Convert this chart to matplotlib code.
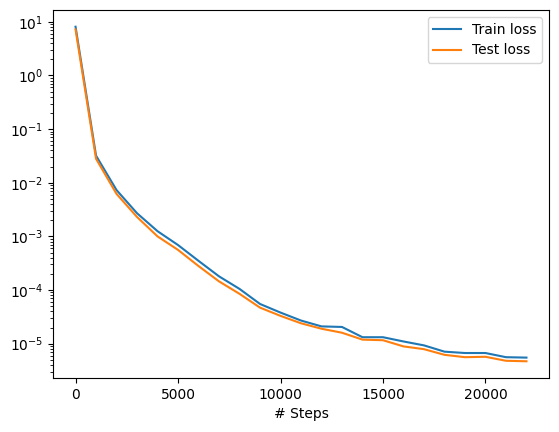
import matplotlib
matplotlib.use("Agg")
import matplotlib.pyplot as plt

steps = [0, 1000, 2000, 3000, 4000, 5000, 6000, 7000, 8000, 9000, 10000,
         11000, 12000, 13000, 14000, 15000, 16000, 17000, 18000, 19000, 20000,
         21000, 22000]
train_loss = [8.1, 3.2e-2, 7.3e-3, 2.7e-3, 1.25e-3, 6.9e-4, 3.5e-4, 1.8e-4, 1.05e-4,
              5.5e-5, 3.8e-5, 2.7e-5, 2.1e-5, 2.05e-5, 1.32e-5, 1.32e-5, 1.1e-5,
              9.3e-6, 7.1e-6, 6.7e-6, 6.7e-6, 5.6e-6, 5.5e-6]
test_loss = [7.2, 2.8e-2, 6.2e-3, 2.3e-3, 1.0e-3, 5.6e-4, 2.8e-4, 1.45e-4, 8.5e-5,
             4.7e-5, 3.3e-5, 2.4e-5, 1.9e-5, 1.6e-5, 1.19e-5, 1.16e-5, 8.9e-6,
             7.9e-6, 6.2e-6, 5.6e-6, 5.7e-6, 4.8e-6, 4.7e-6]

fig = plt.figure(figsize=(5.59, 4.32), dpi=100)
ax = fig.add_subplot(111)
fig.subplots_adjust(left=53/559, right=549/559, top=1-10/432, bottom=1-378/432)
ax.semilogy(steps, train_loss, label="Train loss")
ax.semilogy(steps, test_loss, label="Test loss")
ax.set_xlabel("# Steps")
ax.legend()
fig.savefig("out.png", dpi=100)
